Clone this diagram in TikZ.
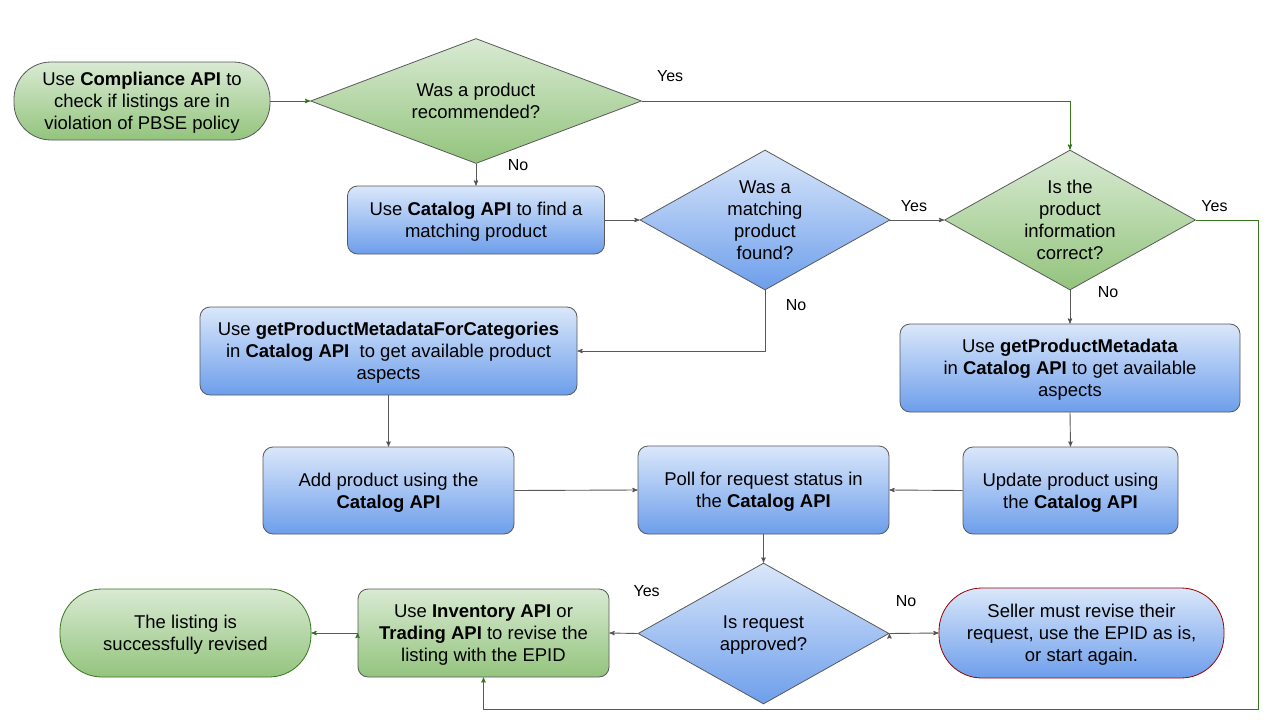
\documentclass[tikz,border=0pt]{standalone}
\usepackage{fontspec}
\setmainfont{Liberation Sans}
\usetikzlibrary{arrows,shapes.geometric}

\definecolor{blueTop}{RGB}{218,231,250}
\definecolor{blueBot}{RGB}{109,158,235}
\definecolor{greenTop}{RGB}{217,234,211}
\definecolor{greenBot}{RGB}{147,196,125}
\definecolor{lineGray}{RGB}{89,89,89}
\definecolor{lineGreen}{RGB}{56,118,29}
\definecolor{borderRed}{RGB}{153,0,0}

\begin{document}
\begin{tikzpicture}[x=1pt,y=-1pt,>=stealth',
  font=\fontsize{18.5}{22}\selectfont,
  box/.style={rectangle,draw=lineGray,line width=0.8pt,rounded corners=10pt,align=center,inner sep=0pt,text depth=-3pt},
  bluebox/.style={box,top color=blueTop,bottom color=blueBot},
  greenbox/.style={box,top color=greenTop,bottom color=greenBot},
  decision/.style={diamond,draw=lineGray,line width=0.8pt,inner sep=0pt},
  dtext/.style={align=center,inner sep=0pt,text depth=-3pt},
  lbl/.style={font=\fontsize{16}{19}\selectfont,inner sep=0pt},
  grayline/.style={draw=lineGray,line width=0.9pt},
  greenline/.style={draw=lineGreen,line width=0.9pt}]

\useasboundingbox (0,0) rectangle (1280,720);

\node[greenbox,rounded corners=37pt,minimum width=256pt,minimum height=78pt]   (comp) at (142,101)
  {Use \textbf{Compliance API} to\\check if listings are in\\violation of PBSE policy};
\node[decision,top color=greenTop,bottom color=greenBot,minimum width=331pt,minimum height=125pt]   (dRec) at (476,101) {};
\node[dtext]   (dRecT) at (dRec)   {Was a product\\recommended?};
\node[bluebox,minimum width=257pt,minimum height=68pt]   (cat) at (476,220)
  {Use \textbf{Catalog API} to find a\\matching product};
\node[decision,top color=blueTop,bottom color=blueBot,minimum width=250pt,minimum height=140pt]   (dMatch) at (765,220) {};
\node[dtext]   (dMatchT) at (dMatch)   {Was a\\matching\\product\\found?};
\node[decision,top color=greenTop,bottom color=greenBot,minimum width=251pt,minimum height=140pt]   (dInfo) at (1070,220) {};
\node[dtext]   (dInfoT) at (dInfo)   {Is the\\product\\information\\correct?};
\node[bluebox,minimum width=377pt,minimum height=88pt]   (metaCat) at (388.5,351)
  {Use \textbf{getProductMetadataForCategories}\\in \textbf{Catalog API}\ \ to get available product\\aspects};
\node[bluebox,minimum width=340pt,minimum height=88pt]   (meta) at (1070,368)
  {Use \textbf{getProductMetadata}\\in \textbf{Catalog API} to get available\\aspects};
\node[bluebox,minimum width=251pt,minimum height=87pt]   (add) at (388.5,490.5)
  {Add product using the\\\textbf{Catalog API}};
\node[bluebox,minimum width=251pt,minimum height=88pt]   (poll) at (763.5,490)
  {Poll for request status in\\the \textbf{Catalog API}};
\node[bluebox,minimum width=215pt,minimum height=87pt]   (upd) at (1070.5,490.5)
  {Update product using\\the \textbf{Catalog API}};
\node[decision,top color=blueTop,bottom color=blueBot,minimum width=251pt,minimum height=141pt]   (dApp) at (763.5,633.5) {};
\node[dtext]   (dAppT) at (dApp)   {Is request\\approved?};
\node[greenbox,minimum width=251pt,minimum height=88pt]   (revise) at (483.5,633)
  {Use \textbf{Inventory API} or\\\textbf{Trading API} to revise the\\listing with the EPID};
\node[greenbox,draw=lineGreen,rounded corners=42pt,minimum width=251pt,minimum height=88pt]   (done) at (185.5,633)
  {The listing is\\successfully revised};
\node[bluebox,draw=borderRed,rounded corners=43pt,minimum width=285pt,minimum height=90pt]   (seller) at (1081.5,633)
  {Seller must revise their\\request, use the EPID as is,\\or start again.};
\coordinate (loop) at (1258,709);

\path[->,greenline] (comp.east)  edge  (dRec.west)
                    (revise.west)  edge  (done.east);
\path[->,grayline] (dRec.south)  edge  node[lbl,pos=0.05,xshift=42pt] (nRec) {No}  (cat.north)
                   (cat.east)  edge  (dMatch.west)
                   (dMatch.east)  edge  node[lbl,pos=0.44,yshift=14pt] (yMatch) {Yes}  (dInfo.west)
                   (dInfo.south)  edge  node[lbl,pos=0.06,xshift=38pt] (nInfo) {No}  (meta.north)
                   (metaCat.south)  edge  (add.north)
                   (meta.south)  edge  (upd.north)
                   (add.east)  edge  (poll.west)
                   (upd.west)  edge  (poll.east)
                   (poll.south)  edge  (dApp.north)
                   (dApp.west)  edge  node[lbl,pos=0,xshift=9pt,yshift=42pt] (yApp) {Yes}  (revise.east)
                   (dApp.east)  edge  node[lbl,pos=0.34,yshift=32pt] (nApp) {No}  (seller.west);
\draw[->,grayline] (dMatch.south) |- node[lbl,pos=0.125,xshift=31pt] (nMatch) {No} (metaCat.east);
\draw[->,greenline] (dRec.east) -| node[lbl,pos=0.033,yshift=25pt] (yRec) {Yes} (dInfo.north);
\draw[->,greenline] (dInfo.east) -| node[lbl,pos=0.15,yshift=14pt] (yInfo) {Yes} (loop) -| (revise.south);

\end{tikzpicture}
\end{document}
